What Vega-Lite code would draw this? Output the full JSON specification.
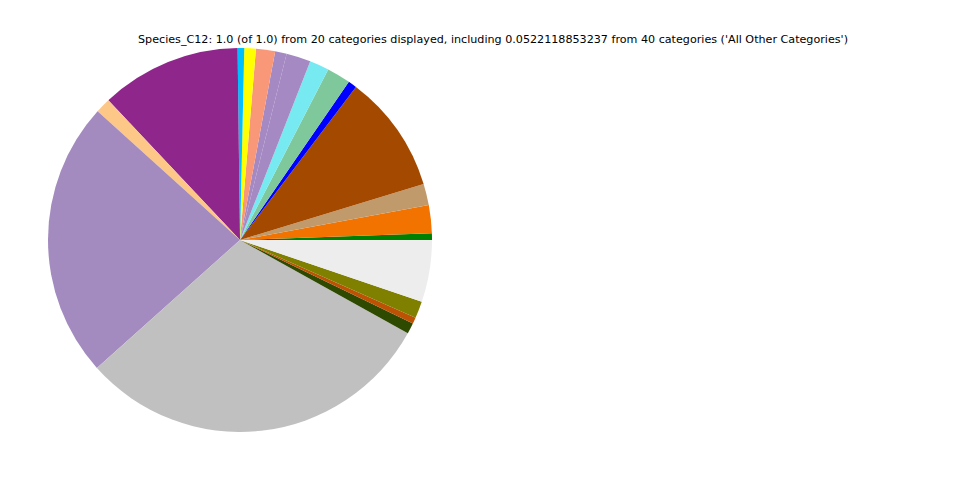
{
  "$schema": "https://vega.github.io/schema/vega-lite/v6.json",
  "width": 384,
  "height": 384,
  "autosize": {"type": "none"},
  "padding": {"left": 48, "top": 48, "right": 528, "bottom": 48},
  "background": "white",
  "title": {
    "text": "Species_C12: 1.0 (of 1.0) from 20 categories displayed, including 0.0522118853237 from 40 categories ('All Other Categories')",
    "anchor": "middle",
    "dx": 253,
    "offset": 3,
    "font": "DejaVu Sans",
    "fontSize": 11.15,
    "fontWeight": "normal",
    "color": "black"
  },
  "data": {
    "values": [
      {"i": 1, "cat": "Cat 01", "v": 2.0},
      {"i": 2, "cat": "Cat 02", "v": 8.5},
      {"i": 3, "cat": "Cat 03", "v": 6.5},
      {"i": 4, "cat": "Cat 04", "v": 35.9},
      {"i": 5, "cat": "Cat 05", "v": 2.6},
      {"i": 6, "cat": "Cat 06", "v": 7.2},
      {"i": 7, "cat": "Cat 07", "v": 5.9},
      {"i": 8, "cat": "Cat 08", "v": 7.4},
      {"i": 9, "cat": "Cat 09", "v": 3.5},
      {"i": 10, "cat": "Cat 10", "v": 5.8},
      {"i": 11, "cat": "Cat 11", "v": 3.5},
      {"i": 12, "cat": "Cat 12", "v": 2.0},
      {"i": 13, "cat": "Cat 13", "v": 42.6},
      {"i": 14, "cat": "Cat 14", "v": 4.6},
      {"i": 15, "cat": "Cat 15", "v": 84.0},
      {"i": 16, "cat": "Cat 16", "v": 109.2},
      {"i": 17, "cat": "Cat 17", "v": 3.3},
      {"i": 18, "cat": "Cat 18", "v": 1.9},
      {"i": 19, "cat": "Cat 19", "v": 5.1},
      {"i": 20, "cat": "All Other Categories", "v": 18.8}
    ]
  },
  "mark": {"type": "arc"},
  "encoding": {
    "theta": {"field": "v", "type": "quantitative", "stack": true, "scale": {"range": [1.5707963, -4.712389]}},
    "order": {"field": "i", "type": "quantitative"},
    "color": {
      "field": "cat",
      "type": "nominal",
      "legend": null,
      "sort": null,
      "scale": {
        "domain": ["Cat 01","Cat 02","Cat 03","Cat 04","Cat 05","Cat 06","Cat 07","Cat 08","Cat 09","Cat 10","Cat 11","Cat 12","Cat 13","Cat 14","Cat 15","Cat 16","Cat 17","Cat 18","Cat 19","All Other Categories"],
        "range": ["#008000","#F37300","#C19A6B","#A44A00","#0000FF","#7FC89B","#76E9F1","#A489C2","#A489C2","#F99779","#FFFF00","#00BFFF","#8F268C","#FDC788","#A38ABF","#C0C0C0","#2E4A00","#BD5205","#808000","#EDEDED"]
      }
    }
  },
  "config": {"view": {"stroke": null}}
}
